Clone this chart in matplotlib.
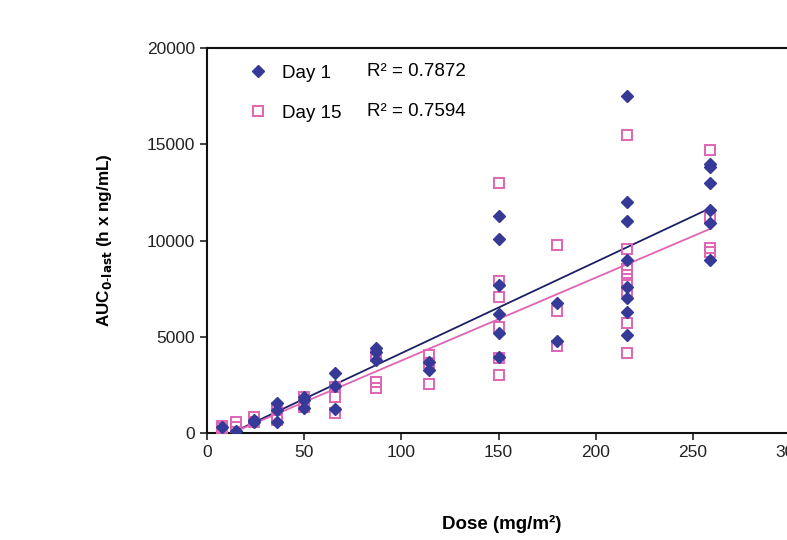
import numpy as np
import matplotlib
matplotlib.use("Agg")
import matplotlib.pyplot as plt

plt.rcParams['font.family'] = ['Liberation Sans', 'DejaVu Sans']

# Day 1 AUC values, grouped by dose level
day1_dose = [7.5, 15, 24, 24, 36, 36, 36, 50, 50, 50, 66, 66, 66,
             87, 87, 87, 114, 114,
             150, 150, 150, 150, 150, 150,
             180, 180,
             216, 216, 216, 216, 216, 216, 216, 216,
             259, 259, 259, 259, 259, 259]
day1_auc = [300, 100, 680, 550, 1550, 1200, 600, 1850, 1700, 1300, 3100, 2450, 1250,
            4400, 4200, 3800, 3700, 3300,
            11300, 10100, 7700, 6200, 5200, 3950,
            6750, 4800,
            17500, 12000, 11000, 9000, 7600, 7000, 6300, 5100,
            14000, 13800, 13000, 11600, 10900, 9000]

# Day 15
day15_dose = [7.5, 7.5, 15, 15, 24, 24, 36, 36, 50, 50, 50, 66, 66, 66,
              87, 87, 87, 114, 114, 114,
              150, 150, 150, 150, 150, 150,
              180, 180, 180,
              216, 216, 216, 216, 216, 216, 216, 216,
              259, 259, 259, 259]
day15_auc = [250, 350, 550, 300, 830, 600, 1300, 700, 1900, 1550, 1350, 2400, 1870, 1040,
             4000, 2650, 2350, 4050, 3650, 2550,
             13000, 7900, 7050, 5500, 3900, 3000,
             9750, 6350, 4500,
             15500, 9550, 8500, 8200, 7800, 7400, 5700, 4150,
             14700, 11200, 9600, 9400]

r2_labels = ['R² = 0.7872', 'R² = 0.7594']

blue = '#353a98'
blue_line = '#1d1f66'
pink = '#e064b4'

fig = plt.figure(figsize=(7.87, 5.40), dpi=100)
ax = fig.add_axes([0.263, 0.198, 0.741, 0.713])

# linear trendlines over the data range
for d, a, c in [(day1_dose, day1_auc, blue_line), (day15_dose, day15_auc, pink)]:
    k, b = np.polyfit(d, a, 1)
    xs = np.array([min(d), max(d)])
    ax.plot(xs, k * xs + b, color=c, lw=1.3, zorder=2)

ax.plot(day15_dose, day15_auc, 's', ms=7, mfc='none', mec=pink, mew=1.4,
        label='Day 15', zorder=3)
ax.plot(day1_dose, day1_auc, 'D', ms=6.5, color=blue, mec=blue,
        label='Day 1', zorder=4)

ax.set_xlim(0, 300)
ax.set_ylim(0, 20000)
ax.set_xticks(range(0, 301, 50))
ax.set_yticks(range(0, 20001, 5000))
ax.tick_params(direction='out', length=5, width=1.2, labelsize=12.5, colors='#222222')
for s in ax.spines.values():
    s.set_linewidth(1.5)
    s.set_color('#111111')

h, l = ax.get_legend_handles_labels()
ax.legend(h[::-1], l[::-1], loc='upper left', bbox_to_anchor=(0.043, 1.0),
          frameon=False, fontsize=13.5, handletextpad=0.75, labelspacing=1.2,
          handlelength=1.0)
ax.text(0.274, 0.938, r2_labels[0], transform=ax.transAxes, fontsize=13.5, va='center')
ax.text(0.274, 0.834, r2_labels[1], transform=ax.transAxes, fontsize=13.5, va='center')

fig.text(0.133, 0.555, r'AUC$_{\mathbf{0\text{-}last}}$ (h x ng/mL)', rotation=90,
         fontsize=12.3, fontweight='bold', ha='center', va='center')
fig.text(0.638, 0.03, 'Dose (mg/m²)', fontsize=13.5, fontweight='bold',
         ha='center', va='center')

fig.savefig('out.png', dpi=100)
